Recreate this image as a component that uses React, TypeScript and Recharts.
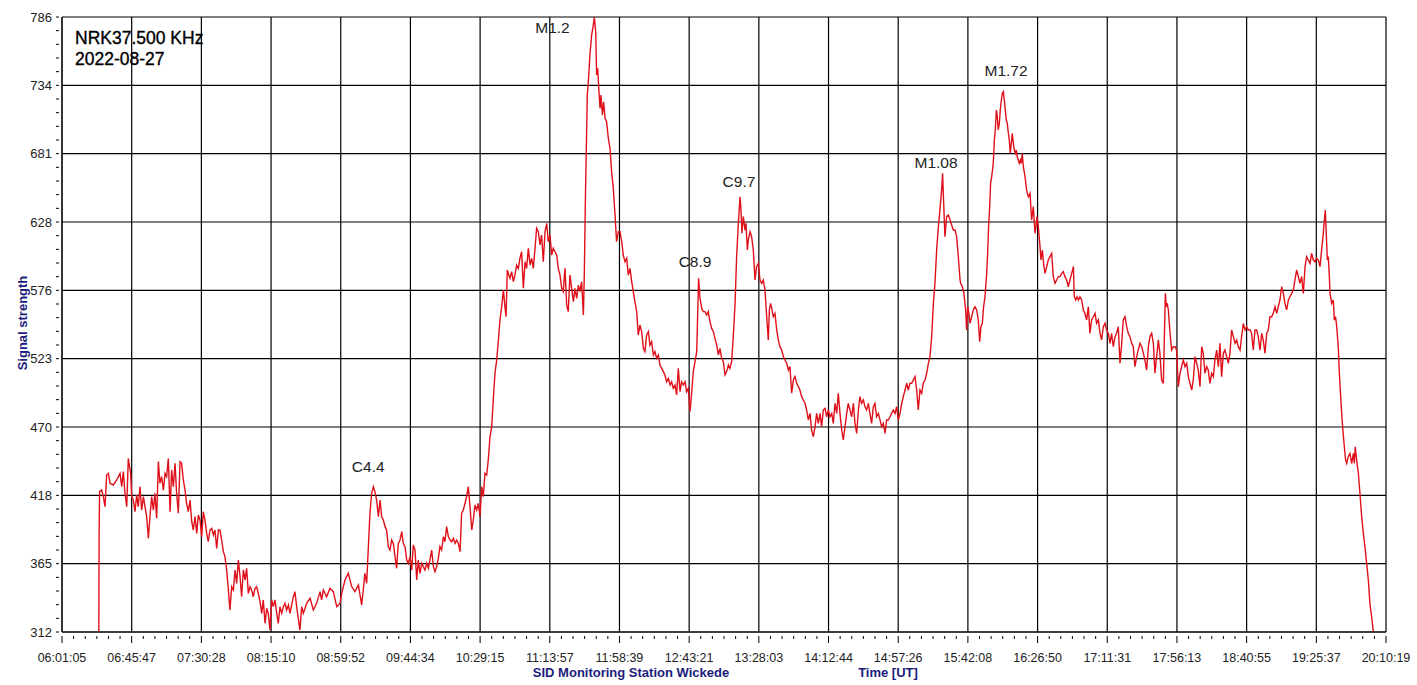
import { LineChart, Line, XAxis, YAxis, ReferenceLine, ReferenceDot } from "recharts";

// axis labels as printed on the recorder plot
const xTickLabels = [
  "06:01:05", "06:45:47", "07:30:28", "08:15:10", "08:59:52", "09:44:34", "10:29:15",
  "11:13:57", "11:58:39", "12:43:21", "13:28:03", "14:12:44", "14:57:26", "15:42:08",
  "16:26:50", "17:11:31", "17:56:13", "18:40:55", "19:25:37", "20:10:19",
];
const yTickLabels = ["312", "365", "418", "470", "523", "576", "628", "681", "734", "786"];

// time axis in minutes after midnight (UT)
const X_START = 361.0833; // 06:01:05
const X_END = 1210.3167; // 20:10:19
const Y_MIN = 312;
const Y_MAX = 786;

// flare class labels and where they sit
const flareNames = ["C4.4", "M1.2", "C8.9", "C9.7", "M1.08", "M1.72"];
const flareLabelTimes = [557.5, 675.7, 767.1, 795.3, 921.7, 966.6];
const flareLabelLevels = [439.4, 777.9, 597.9, 659.6, 673.5, 745.1];

// signal strength readings: [minute UT, level]
const earlyMorning: [number, number][] = [
  [384.7, 312], [384.9, 388], [385.2, 420.2], [386.5, 421.4], [387.6, 416.3], [388.7, 408.6], [389.7, 433.0],
  [390.8, 434.3], [391.9, 426.6], [394.0, 425.3], [396.2, 429.2], [398.3, 434.3], [399.4, 424.0], [400.4, 435.6],
  [401.5, 418.9], [402.6, 408.6], [403.6, 445.8], [405.1, 434.3], [405.8, 416.3], [406.8, 413.7], [407.9, 404.7],
  [409.0, 417.6], [410.0, 408.6], [411.1, 424.0], [412.2, 406.0], [413.3, 416.3], [414.3, 408.6], [415.4, 400.9],
  [416.5, 384.2], [417.5, 400.9], [418.6, 416.3], [419.7, 406.0], [420.7, 418.9], [421.8, 399.6], [422.9, 443.3],
  [423.9, 426.6], [425.0, 431.7], [426.1, 421.4], [427.2, 434.3], [428.2, 431.7], [429.3, 445.8], [430.4, 404.7],
  [431.4, 436.9], [432.5, 424.0], [433.6, 442.0], [434.6, 418.9], [435.7, 403.5], [436.8, 443.3], [437.8, 442.0],
  [438.9, 429.2], [440.0, 421.4], [441.0, 411.2], [442.1, 404.7], [443.2, 413.7], [444.3, 397.0], [445.3, 390.6],
  [446.4, 400.9], [447.5, 388.0], [448.5, 402.2], [449.6, 398.3], [450.7, 385.5], [451.7, 404.7], [452.8, 398.3],
  [453.9, 388.0], [454.9, 381.6], [456.0, 390.6], [457.1, 391.9], [458.2, 386.8], [459.2, 390.6], [460.3, 376.5],
  [461.4, 390.6], [462.4, 390.6], [463.5, 382.9], [464.6, 373.9], [465.6, 370.1], [466.7, 359.8], [467.8, 344.4],
  [468.8, 329.0], [469.9, 346.9], [471.0, 344.4], [472.1, 359.8], [473.1, 349.5], [474.2, 367.5], [475.3, 354.6],
  [476.3, 339.2], [477.4, 359.8], [478.5, 352.1], [479.5, 361.1], [480.6, 341.8], [481.7, 346.9], [482.7, 344.4],
  [483.8, 339.2], [484.9, 345.7], [485.9, 346.9], [487.0, 341.8], [488.1, 335.4], [489.2, 326.4], [490.2, 336.7],
  [491.3, 318.7], [492.4, 330.2], [493.4, 326.4], [494.5, 313.5], [495.6, 336.7], [496.6, 331.5], [497.7, 336.7],
  [498.8, 326.4], [499.8, 318.7], [500.9, 331.5], [502.0, 326.4], [503.1, 331.5], [504.1, 334.1], [505.2, 328.9],
  [506.3, 332.8],
];

const morning: [number, number][] = [
  [507.3, 326.4], [509.5, 339.2], [510.5, 343.1], [511.6, 331.5], [513.7, 313.5], [514.8, 331.5], [515.9, 326.4],
  [518.0, 334.1], [520.2, 338.0], [522.3, 329.0], [524.4, 334.1], [526.6, 343.1], [527.6, 336.7], [528.7, 344.4],
  [530.8, 339.2], [533.0, 345.7], [535.1, 343.1], [537.3, 331.5], [539.4, 334.1], [540.5, 341.8], [542.6, 352.1],
  [544.7, 357.2], [546.9, 347.0], [549.0, 343.1], [551.2, 348.2], [553.3, 332.8], [555.4, 357.2], [556.5, 349.5],
  [557.6, 377.8], [558.6, 403.5], [559.7, 418.9], [560.8, 424.0], [561.8, 420.2], [562.9, 413.7], [564.0, 400.9],
  [565.1, 413.7], [566.1, 400.9], [567.2, 398.3], [568.3, 393.2], [569.3, 390.6], [570.4, 377.8], [571.5, 375.2],
  [572.5, 382.9], [573.6, 380.3], [574.7, 370.1], [575.7, 361.1], [576.8, 380.3], [577.9, 382.9], [579.0, 389.3],
  [580.0, 380.3], [581.1, 377.8], [582.2, 367.5], [583.2, 364.9], [584.3, 370.1], [585.4, 359.8], [586.4, 379.0],
  [587.5, 375.2], [588.6, 352.1], [589.6, 367.5], [590.7, 357.2], [591.8, 364.9], [592.8, 362.4], [593.9, 359.8],
  [595.0, 364.9], [596.1, 361.1], [597.1, 367.5], [598.2, 375.2], [599.3, 362.4], [600.3, 358.5], [601.4, 362.4],
  [602.5, 368.8], [603.5, 377.8], [604.6, 375.2], [605.7, 385.5], [606.7, 381.6], [607.8, 393.2], [608.9, 385.5],
  [610.0, 382.9], [611.0, 381.6], [612.1, 384.2], [613.2, 380.3], [614.2, 382.9], [615.3, 380.3], [616.4, 373.9],
  [617.4, 403.5], [618.5, 406.0], [619.6, 411.2], [620.6, 416.3], [621.7, 424.0], [622.8, 408.6], [623.9, 390.6],
  [624.9, 398.3], [626.0, 409.9], [627.1, 406.0], [628.1, 411.2], [629.2, 400.9], [630.3, 424.0], [631.3, 416.3],
  [632.4, 434.3], [633.5, 433.0], [634.5, 444.6], [635.6, 462.5], [636.7, 470.3], [637.7, 490.8], [638.8, 511.4],
  [639.9, 521.6], [641.0, 537.0], [642.0, 552.5], [643.1, 562.7], [644.2, 575.6], [645.2, 562.7], [645.9, 555.0],
  [646.7, 591.0], [648.0, 585.9],
];

const midday: [number, number][] = [
  [648.4, 584.6], [649.5, 589.7], [650.6, 582.0], [651.6, 587.1], [652.7, 594.8], [653.8, 592.3], [654.8, 600.0],
  [655.9, 605.1], [657.0, 576.9], [658.1, 597.4], [659.1, 592.3], [660.2, 607.7], [661.3, 594.8], [662.3, 600.0],
  [663.4, 592.3], [664.5, 607.7], [665.5, 623.1], [666.6, 620.5], [667.7, 610.3], [668.7, 618.0], [669.8, 597.4],
  [670.9, 620.5], [672.0, 627.0], [673.0, 612.8], [674.1, 618.0], [675.2, 602.5], [676.2, 607.7], [677.3, 605.1],
  [678.4, 602.5], [679.4, 592.3], [680.5, 587.1], [681.6, 576.9], [682.6, 574.3], [683.7, 592.3], [684.8, 564.0],
  [685.8, 558.9], [686.9, 587.1], [688.0, 576.9], [689.1, 566.6], [690.1, 576.9], [691.2, 569.2], [692.3, 579.4],
  [693.3, 574.3], [694.4, 582.0], [695.5, 556.3], [696.1, 587.1], [696.8, 646.2], [697.4, 684.8], [698.0, 725.9],
  [698.7, 736.1], [699.7, 756.7], [700.8, 772.1], [701.9, 779.8], [702.5, 786], [703.4, 774.7], [704.0, 741.3],
  [704.7, 746.4], [705.5, 728.4], [706.2, 715.6], [706.8, 725.9], [707.7, 710.5], [708.5, 720.7], [709.4, 707.9],
  [710.4, 705.3], [711.5, 692.5], [712.6, 684.8], [713.6, 666.8], [714.7, 653.9], [715.8, 633.4], [716.8, 612.8],
  [717.9, 620.5], [719.0, 620.5], [720.1, 612.8], [721.1, 602.5], [722.2, 597.4], [723.3, 600.0], [724.3, 587.1],
  [725.4, 592.3], [726.5, 582.0], [727.5, 574.3], [728.6, 566.6], [729.7, 558.9], [730.7, 540.9], [731.8, 548.6],
  [732.9, 543.5], [734.0, 530.6], [735.0, 528.1], [736.1, 540.9], [737.2, 543.5], [738.2, 533.2], [739.3, 535.8],
  [740.4, 525.5], [741.4, 528.1], [742.5, 522.9], [743.6, 525.5], [744.6, 517.8], [745.7, 515.2], [746.8, 512.7],
  [747.8, 510.1], [748.9, 504.9], [750.0, 507.5], [751.1, 502.4], [752.1, 504.9], [753.2, 499.8], [754.3, 502.4],
  [755.3, 494.7], [756.4, 515.2], [757.5, 497.2], [758.5, 504.9], [759.6, 502.4], [760.7, 504.9], [761.7, 497.2],
  [762.8, 499.8], [763.9, 481.8], [765.0, 497.2], [766.0, 512.7], [767.1, 520.3], [768.2, 528.1], [768.8, 556.3],
  [769.4, 584.6], [770.3, 569.2], [771.4, 561.4], [772.4, 558.9], [773.5, 558.9], [774.6, 556.3], [775.6, 558.9],
  [776.7, 551.2], [777.8, 546.0], [778.9, 543.5], [779.9, 538.3], [781.0, 533.2], [782.1, 525.5], [783.1, 530.6],
  [784.2, 522.9], [785.3, 520.3], [786.3, 510.1], [787.4, 512.7], [788.5, 517.8], [789.5, 515.2], [790.6, 520.3],
  [791.7, 540.9],
];

const afternoon: [number, number][] = [
  [792.8, 565.3], [793.8, 601.3], [794.9, 627.0], [796.0, 647.5], [796.6, 637.2], [797.2, 619.3], [798.1, 632.1],
  [799.2, 621.8], [799.8, 627.0], [800.7, 606.4], [801.3, 614.1], [802.4, 620.5], [803.4, 616.7], [804.5, 606.4],
  [805.6, 583.3], [806.6, 593.6], [807.7, 596.1], [808.8, 583.3], [809.9, 580.7], [810.9, 583.3], [812.0, 575.6],
  [813.1, 555.0], [814.1, 537.1], [814.8, 560.2], [815.6, 565.3], [816.5, 560.2], [817.3, 555.0], [818.4, 557.6],
  [819.5, 544.8], [820.5, 537.1], [821.6, 531.9], [822.7, 529.3], [823.8, 524.2], [824.8, 521.6], [825.9, 519.1],
  [827.0, 513.9], [828.0, 516.5], [829.1, 496.0], [830.2, 506.2], [831.2, 508.8], [832.3, 503.7], [833.4, 501.1],
  [834.4, 498.5], [835.5, 493.4], [836.6, 490.8], [837.7, 488.2], [838.7, 483.1], [839.8, 475.4], [840.9, 480.5],
  [841.9, 467.7], [843.0, 462.5], [844.1, 470.2], [845.1, 480.5], [846.2, 472.8], [847.3, 480.5], [848.3, 470.2],
  [849.4, 483.1], [850.5, 484.4], [851.5, 477.9], [852.6, 483.1], [853.7, 477.9], [854.8, 480.5], [855.8, 472.8],
  [856.9, 488.2], [858.0, 480.5], [859.0, 496.0], [860.1, 480.5], [861.2, 467.7], [862.2, 460.0], [863.3, 470.2],
  [864.4, 480.5], [865.4, 488.2], [866.5, 483.1], [867.6, 477.9], [868.7, 488.2], [869.7, 472.8], [870.8, 465.1],
  [871.9, 483.1], [872.9, 493.4], [874.0, 488.2], [875.1, 490.8], [876.1, 485.7], [877.2, 483.1], [878.3, 488.2],
  [879.3, 480.5], [880.4, 472.8], [881.5, 485.7], [882.5, 488.2], [883.6, 477.9], [884.7, 480.5], [885.8, 475.4],
  [886.8, 470.2], [887.9, 472.8], [889.0, 465.1], [890.0, 475.4], [891.1, 475.4], [892.2, 477.9], [893.2, 480.5],
  [894.3, 483.1], [895.4, 480.5], [896.4, 485.7], [897.5, 475.4], [898.6, 480.5], [899.7, 488.2], [900.7, 493.4],
  [901.8, 498.5], [902.9, 503.7], [903.9, 498.5], [905.0, 503.7], [906.1, 503.7], [907.1, 506.2], [908.2, 508.8],
  [909.3, 498.5], [910.3, 483.1], [911.4, 498.5], [912.5, 496.0], [913.5, 503.7], [914.6, 506.2], [915.7, 511.4],
  [916.8, 519.1], [917.8, 524.2], [918.9, 539.6], [920.0, 565.3], [921.0, 580.7], [922.1, 606.4], [923.2, 624.4],
  [924.2, 637.2], [925.3, 652.7], [925.9, 665.5], [926.6, 642.4], [927.4, 616.7], [928.5, 632.1], [929.6, 633.4],
  [930.7, 629.5], [931.7, 625.7], [932.8, 621.8], [933.9, 621.8], [934.9, 616.7], [936.0, 601.3], [937.1, 583.3],
];

const lateAfternoon: [number, number][] = [
  [937.5, 580.7], [938.6, 578.1], [939.6, 573.0], [940.7, 560.2], [941.3, 544.8], [942.0, 562.7], [942.8, 557.6],
  [943.5, 549.9], [944.5, 555.0], [945.6, 560.2], [946.7, 562.7], [947.8, 560.2], [948.8, 552.5], [949.7, 535.8],
  [950.5, 547.3], [951.4, 549.9], [952.2, 562.7], [953.1, 570.4], [954.2, 588.4], [954.8, 603.8], [955.4, 624.4],
  [956.1, 639.8], [956.7, 657.8], [957.4, 662.9], [958.4, 673.2], [959.1, 691.2], [959.7, 698.9], [960.4, 714.3],
  [961.0, 709.2], [961.6, 698.9], [962.3, 704.0], [962.9, 714.3], [963.6, 722.0], [964.2, 727.2], [964.9, 728.4],
  [965.5, 722.0], [966.1, 714.3], [966.8, 706.6], [967.4, 704.0], [968.1, 696.3], [968.7, 691.2], [969.3, 680.9],
  [970.0, 688.6], [970.6, 696.3], [971.3, 688.6], [971.9, 683.5], [972.6, 680.9], [973.2, 683.5], [973.8, 678.3],
  [974.5, 675.8], [975.1, 673.2], [975.8, 675.8], [976.4, 673.2], [977.0, 680.9], [977.7, 670.6], [978.8, 662.9],
  [979.8, 652.6], [980.9, 647.5], [982.0, 650.1], [983.0, 629.5], [984.1, 639.8], [985.2, 619.3], [985.8, 624.4],
  [986.4, 632.1], [987.3, 624.4], [988.4, 609.0], [989.0, 598.7], [989.9, 606.4], [990.7, 596.1], [991.6, 588.4],
  [992.7, 593.6], [993.7, 598.7], [994.8, 601.3], [995.9, 603.8], [996.9, 585.9], [998.0, 580.7], [999.1, 583.3],
  [1000.1, 585.9], [1001.2, 585.9], [1002.3, 588.4], [1003.3, 589.7], [1004.4, 585.9], [1005.5, 583.3],
  [1006.5, 578.1], [1007.6, 583.3], [1008.7, 588.4], [1009.8, 593.6], [1010.4, 570.4], [1011.3, 567.9],
  [1012.1, 570.4], [1013.0, 567.9], [1014.0, 570.4], [1015.1, 567.9], [1016.2, 560.2], [1017.2, 557.6],
  [1018.3, 552.5], [1019.4, 562.7], [1020.4, 542.2], [1021.5, 552.5], [1022.6, 555.0], [1023.7, 557.6],
  [1024.7, 549.9], [1025.8, 552.5], [1026.9, 542.2], [1027.9, 537.1], [1029.0, 547.3], [1030.1, 549.9],
  [1031.1, 544.8], [1032.2, 542.2], [1033.3, 534.5], [1034.3, 542.2], [1035.4, 531.9], [1036.5, 539.6],
  [1037.5, 542.2], [1038.6, 547.3], [1039.7, 519.1], [1040.8, 534.5], [1041.8, 552.5], [1042.9, 555.0],
  [1044.0, 547.3], [1045.0, 542.2], [1046.1, 539.6], [1047.2, 534.5], [1048.2, 531.9], [1049.3, 516.5],
  [1050.4, 524.2], [1051.4, 529.3], [1052.5, 534.5], [1053.6, 531.9], [1054.7, 526.8], [1055.7, 521.6],
  [1056.8, 513.9], [1057.9, 531.9], [1058.9, 539.6], [1060.0, 542.2], [1061.1, 534.5], [1062.1, 511.4],
  [1063.2, 524.2], [1064.3, 537.1], [1065.3, 526.8], [1066.4, 506.2], [1067.5, 503.6], [1068.1, 537.1],
  [1068.8, 573.0], [1069.4, 562.7], [1070.0, 565.3], [1070.7, 560.2], [1071.8, 542.2], [1072.8, 529.3],
  [1073.9, 531.9], [1075.0, 531.9], [1076.0, 529.3], [1077.1, 501.1], [1078.2, 511.4], [1079.2, 516.5],
  [1080.3, 521.6],
];

const evening: [number, number][] = [
  [1081.4, 516.5], [1082.5, 519.1], [1083.5, 508.8], [1084.6, 503.6], [1085.7, 498.5], [1086.7, 506.2],
  [1087.8, 524.2], [1088.9, 519.1], [1089.9, 513.9], [1091.0, 501.1], [1092.1, 531.9], [1093.1, 526.8],
  [1094.2, 511.4], [1095.3, 516.5], [1096.3, 513.9], [1097.4, 503.6], [1098.5, 511.4], [1099.6, 508.8],
  [1100.6, 521.6], [1101.7, 529.3], [1102.8, 516.5], [1103.8, 534.5], [1104.9, 508.8], [1106.0, 526.8],
  [1107.0, 529.3], [1108.1, 524.2], [1109.2, 519.1], [1110.2, 526.8], [1111.3, 544.8], [1112.4, 539.6],
  [1113.5, 534.5], [1114.5, 537.0], [1115.6, 531.9], [1116.7, 529.3], [1117.7, 539.6], [1118.8, 549.9],
  [1119.9, 544.8], [1120.9, 547.3], [1122.0, 544.8], [1123.1, 544.8], [1124.1, 542.2], [1125.2, 529.3],
  [1126.3, 544.8], [1127.3, 544.8], [1128.4, 539.6], [1129.5, 529.3], [1130.6, 542.2], [1131.6, 537.0],
  [1132.7, 526.8], [1133.8, 542.2], [1134.8, 544.8], [1135.9, 555.0], [1137.0, 555.0], [1138.0, 557.6],
  [1139.1, 562.7], [1140.2, 557.6], [1141.2, 562.7], [1142.3, 567.9], [1143.4, 578.1], [1144.5, 573.0],
  [1145.5, 565.3], [1146.6, 560.2], [1147.7, 567.9], [1148.7, 570.4], [1149.8, 573.0], [1150.9, 575.6],
  [1151.9, 583.3], [1153.0, 591.0], [1154.1, 585.9], [1155.1, 580.7], [1156.2, 585.9], [1157.3, 573.0],
  [1158.4, 593.6], [1159.4, 601.3], [1160.5, 598.7], [1161.6, 596.1], [1162.6, 603.8], [1163.7, 598.7],
  [1164.8, 597.4], [1165.8, 600.0], [1166.9, 598.7], [1168.0, 593.6], [1169.0, 606.4], [1170.1, 619.2],
  [1170.8, 629.5], [1171.4, 637.2], [1172.0, 619.2], [1172.7, 598.7], [1173.3, 601.3], [1174.0, 585.9],
  [1174.4, 573.0], [1175.5, 565.3], [1176.5, 567.9], [1177.2, 552.4], [1178.0, 555.0], [1178.7, 547.3],
  [1179.7, 531.9], [1180.4, 511.4], [1181.0, 498.5], [1181.9, 480.5], [1182.5, 470.2], [1183.4, 457.4],
  [1184.4, 444.6], [1185.1, 442.0], [1186.1, 447.1], [1187.2, 449.7], [1188.3, 442.0], [1189.4, 449.7],
  [1190.0, 442.0], [1190.6, 454.8], [1191.5, 444.6], [1192.6, 434.3], [1193.6, 418.9], [1194.7, 400.9],
  [1195.8, 388.0], [1196.8, 377.8], [1197.9, 364.9], [1199.0, 352.1], [1200.0, 334.1], [1201.1, 323.8],
  [1201.8, 316.1], [1202.2, 312],
];

const data = [...earlyMorning, ...morning, ...midday, ...afternoon, ...lateAfternoon, ...evening].map(
  ([t, v]) => ({ t, v })
);

const X_SUB = 6;
const Y_SUB = 5;
const xStep = (X_END - X_START) / (xTickLabels.length - 1);
const yStep = (Y_MAX - Y_MIN) / (yTickLabels.length - 1);
const xMajor = xTickLabels.map((_, i) => X_START + i * xStep);
const yMajor = yTickLabels.map((_, i) => Y_MIN + i * yStep);
const xMinor = Array.from({ length: (xTickLabels.length - 1) * X_SUB + 1 }, (_, i) => X_START + (i * xStep) / X_SUB);
const yMinor = Array.from({ length: (yTickLabels.length - 1) * Y_SUB + 1 }, (_, i) => Y_MIN + (i * yStep) / Y_SUB);

const FONT = "'Liberation Sans', Arial, sans-serif";
const NAVY = "#1c1c7c";

function TimeTick(props: any) {
  const { x, y, payload } = props;
  const i = Math.round(((payload.value - X_START) * X_SUB) / xStep);
  const major = i % X_SUB === 0;
  return (
    <g>
      <line x1={x} x2={x} y1={y + 4} y2={y + (major ? 11 : 7)} stroke="#000" />
      {major && (
        <text x={x} y={y + 30} textAnchor="middle" fontSize={12.5} fontFamily={FONT} fill="#222">
          {xTickLabels[i / X_SUB]}
        </text>
      )}
    </g>
  );
}

function LevelTick(props: any) {
  const { x, y, payload } = props;
  const i = Math.round(((payload.value - Y_MIN) * Y_SUB) / yStep);
  const major = i % Y_SUB === 0;
  return (
    <g>
      <line x1={x - 6} x2={x - 3} y1={y} y2={y} stroke="#000" />
      {major && (
        <text x={x - 10} y={y + 4.5} textAnchor="end" fontSize={13} fontFamily={FONT} fill="#222">
          {yTickLabels[i / Y_SUB]}
        </text>
      )}
    </g>
  );
}

export default function App() {
  return (
    <div style={{ position: "absolute", left: 0, top: 0, width: 1417, height: 685, background: "#fff", fontFamily: FONT }}>
      <LineChart width={1417} height={685} data={data} margin={{ top: 17, right: 31, left: 0, bottom: 0 }}>
        <XAxis
          dataKey="t"
          type="number"
          domain={[X_START, X_END]}
          ticks={xMinor}
          interval={0}
          tick={<TimeTick />}
          tickLine={false}
          tickSize={0}
          tickMargin={0}
          height={53}
          axisLine={{ stroke: "#000" }}
          allowDataOverflow
        />
        <YAxis
          type="number"
          domain={[Y_MIN, Y_MAX]}
          ticks={yMinor}
          interval={0}
          tick={<LevelTick />}
          tickLine={false}
          tickSize={0}
          tickMargin={0}
          width={62}
          axisLine={{ stroke: "#000" }}
          allowDataOverflow
        />
        {xMajor.map((v) => (
          <ReferenceLine key={"x" + v} x={v} stroke="#000" strokeWidth={1.2} ifOverflow="visible" />
        ))}
        {yMajor.map((v) => (
          <ReferenceLine key={"y" + v} y={v} stroke="#000" strokeWidth={1.2} ifOverflow="visible" />
        ))}
        <Line
          type="linear"
          dataKey="v"
          stroke="#e0101a"
          strokeWidth={1.4}
          dot={false}
          isAnimationActive={false}
        />
        {flareNames.map((name, i) => (
          <ReferenceDot
            key={name}
            x={flareLabelTimes[i]}
            y={flareLabelLevels[i]}
            r={0}
            ifOverflow="visible"
            label={{ value: name, position: "center", fontSize: 15.5, fill: "#222", fontFamily: FONT }}
          />
        ))}
      </LineChart>
      <svg width={1417} height={685} style={{ position: "absolute", left: 0, top: 0, pointerEvents: "none" }}>
        <text x={75} y={43.5} fontSize={17.5} fontFamily={FONT} fill="#000" stroke="#000" strokeWidth={0.35}>
          NRK37.500 KHz
        </text>
        <text x={75} y={65} fontSize={17.5} fontFamily={FONT} fill="#000" stroke="#000" strokeWidth={0.35}>
          2022-08-27
        </text>
        <text
          x={22}
          y={323}
          transform="rotate(-90 22 323)"
          textAnchor="middle"
          dy="0.35em"
          fontSize={13}
          fontWeight="bold"
          fontFamily={FONT}
          fill={NAVY}
        >
          Signal strength
        </text>
        <text x={631} y={677} textAnchor="middle" fontSize={13} fontWeight="bold" fontFamily={FONT} fill={NAVY}>
          SID Monitoring Station Wickede
        </text>
        <text x={888} y={677} textAnchor="middle" fontSize={13} fontWeight="bold" fontFamily={FONT} fill={NAVY}>
          Time [UT]
        </text>
      </svg>
    </div>
  );
}
